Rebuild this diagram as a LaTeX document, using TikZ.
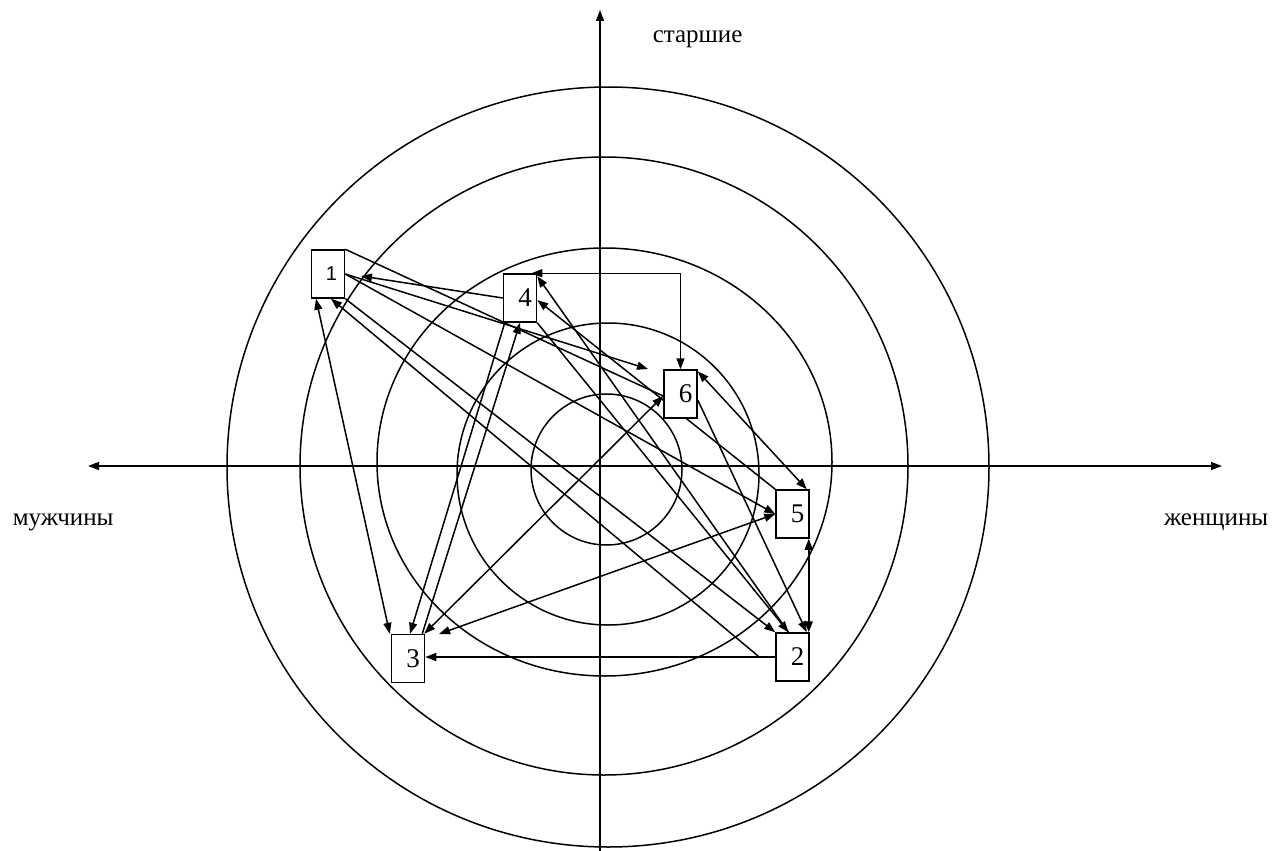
\documentclass[tikz,border=0pt]{standalone}
\usepackage{fontspec}
\setmainfont{Liberation Serif}
\newfontfamily\sansf{Liberation Sans}
\usetikzlibrary{arrows.meta}
\pgfdeclarelayer{bg}
\pgfsetlayers{bg,main}
\begin{document}
\begin{tikzpicture}[x=1pt,y=-1pt,
  every path/.style={line width=1.5pt},
  box/.style={draw, fill=white, line width=1.5pt, minimum width=33pt, minimum height=48pt, inner sep=0pt, font=\fontsize{27}{27}\selectfont},
  arr/.style={-{Triangle[length=11pt,width=8pt]}},
  darr/.style={{Triangle[length=11pt,width=8pt]}-{Triangle[length=11pt,width=8pt]}},
  lbl/.style={font=\fontsize{25}{25}\selectfont, inner sep=0pt}]
\useasboundingbox (0,0) rectangle (1277,851);
% boxes
\node[box] (b1) at (328,274) {\kern7pt{\sansf\fontsize{20}{20}\selectfont 1}};
\node[box] (b4) at (520,298) {\kern10pt 4};
\node[box] (b6) at (680.5,394) {\kern10pt 6};
\node[box] (b5) at (792.5,514) {\kern10pt 5};
\node[box] (b2) at (792.5,657) {\kern10pt 2};
\node[box] (b3) at (408,658.5) {\kern10pt 3};
% labels
\node[lbl, anchor=base west] (top) at (652,43) {старшие};
\node[lbl, anchor=base west] (left) at (12,525) {мужчины};
\node[lbl, anchor=base east] (right) at (1269,525) {женщины};
\coordinate (t41) at (361,276);
\coordinate (t16) at (648,369);
\coordinate (t35) at (439,634);
\coordinate (vtop) at (600,10);
\coordinate (vbot) at (600,851);
\coordinate (hl) at (88,466);
\coordinate (hr) at (1222,466);
\begin{pgfonlayer}{bg}
\begin{scope}[line width=1.5pt]
% circles
\draw (608,467) ellipse [x radius=381pt, y radius=380pt];
\draw (604,466) ellipse [x radius=304pt, y radius=309pt];
\draw (604.5,462) ellipse [x radius=227.5pt, y radius=214pt];
\draw (608,474) ellipse [x radius=151pt, y radius=151pt];
\draw (606.5,469.5) ellipse [x radius=75.5pt, y radius=75.5pt];
% axes
\draw[arr] (vbot) -- (vtop);
\draw[darr] (hl) -- (hr);
% connectors
\draw[darr] ([xshift=-12pt]b1.south) -- ([xshift=-1pt]b3.north west);
\draw[arr] ([xshift=-16pt]b2.west) -- ([xshift=3pt]b1.south);
\draw[arr] (b1.south east) -- (b2.north west);
\draw[arr] (b4.west) -- (t41);
\draw (b1.north east) -- ([yshift=-2pt]b6.west);
\draw[arr] (b1.east) -- (t16);
\draw[arr] (b1.east) -- (b5.west);
\draw[arr] (b5.north west) -- ([yshift=-2pt]b4.east);
\draw[arr] ([xshift=-4pt]b2.north) -- ([yshift=-3pt]b4.north east);
\draw[arr] (b4.south east) -- ([xshift=-4pt]b2.north);
\draw[darr] (b6.north) -- (b6.north |- b4.north) -- ([xshift=-6pt]b4.north east);
\draw[darr] ([xshift=-1pt]b3.north east) -- ([yshift=-2pt]b6.west);
\draw[darr] ([yshift=-2pt]b6.north east) -- ([xshift=-3pt]b5.north east);
\draw[arr] ([yshift=-6pt]b6.east) -- ([xshift=-3pt]b2.north east);
\draw[darr] ([xshift=-1pt]b5.south east) -- ([xshift=-1pt]b2.north east);
\draw[arr] (b2.west) -- (b2.west -| b3.east);
\draw[darr] (b5.west) -- (t35);
\draw[arr] ([xshift=2pt]b4.south west) -- ([xshift=2pt]b3.north);
\draw[arr] ([xshift=-3pt]b3.north east) -- (b4.south);
\end{scope}
\end{pgfonlayer}
\end{tikzpicture}
\end{document}
